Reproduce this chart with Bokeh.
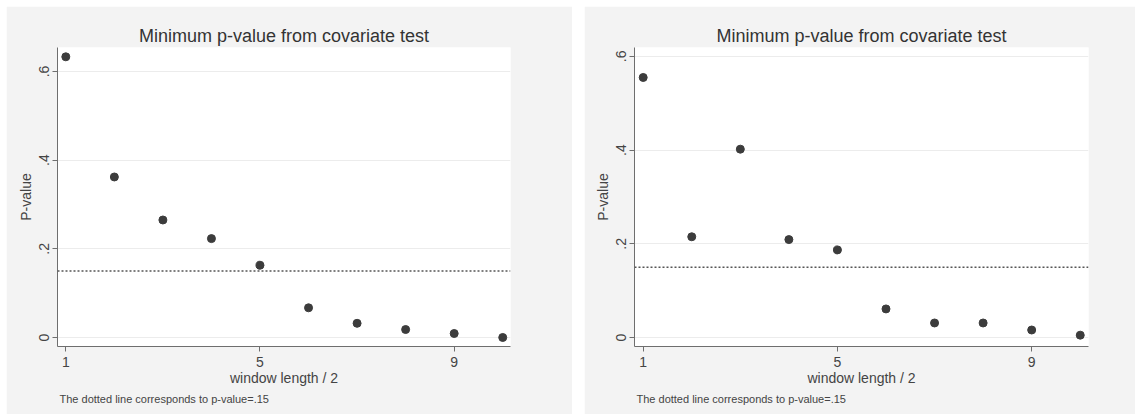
from bokeh.plotting import figure
from bokeh.layouts import row
from bokeh.models import FixedTicker, Range1d, Span, Title
from bokeh.embed import file_html
from bokeh.resources import INLINE

window = [1, 2, 3, 4, 5, 6, 7, 8, 9, 10]
pvals_left = [0.633, 0.362, 0.265, 0.223, 0.163, 0.067, 0.032, 0.018, 0.009, 0.0]
pvals_right = [0.555, 0.215, 0.402, 0.209, 0.187, 0.061, 0.031, 0.031, 0.016, 0.005]
threshold = 0.15
x_ticks = [1, 5, 9]
y_ticks = [0, 0.2, 0.4, 0.6]
y_tick_labels = {0: "0", 0.2: ".2", 0.4: ".4", 0.6: ".6"}
title_text = "Minimum p-value from covariate test"
x_title = "window length / 2"
y_title = "P-value"
note_text = "The dotted line corresponds to p-value=.15"

FONT = "Liberation Sans"
PANEL = "#f3f3f3"


def make_panel(vals, width, xr, yr, bl, br, margin):
    p = figure(width=width, height=408, output_backend="svg", toolbar_location=None,
               x_range=Range1d(*xr), y_range=Range1d(*yr),
               min_border_left=bl, min_border_right=br, min_border_top=41, min_border_bottom=68)
    p.margin = margin
    p.background_fill_color = "white"
    p.border_fill_color = PANEL
    p.outline_line_color = None

    p.title.text = title_text
    p.title.align = "center"
    p.title.text_font = FONT
    p.title.text_font_size = "18px"
    p.title.text_font_style = "normal"
    p.title.text_color = "#333333"
    p.title.standoff = 3

    p.scatter(window, vals, size=8, color="#3c3c3c")
    p.add_layout(Span(location=threshold, dimension="width", line_color="#555555",
                      line_width=1.6, line_dash="2 2"))

    for ax in (p.xaxis[0], p.yaxis[0]):
        ax.axis_line_color = "#6e6e6e"
        ax.major_tick_line_color = "#6e6e6e"
        ax.major_tick_out = 5
        ax.major_tick_in = 0
        ax.minor_tick_line_color = None
        ax.major_label_text_font = FONT
        ax.major_label_text_font_size = "14px"
        ax.major_label_text_color = "#444444"
        ax.axis_label_text_font = FONT
        ax.axis_label_text_font_size = "14px"
        ax.axis_label_text_font_style = "normal"
        ax.axis_label_text_color = "#444444"

    p.xaxis.ticker = FixedTicker(ticks=x_ticks)
    p.xaxis.axis_label = x_title
    p.xaxis.axis_label_standoff = 0
    p.xaxis.major_label_standoff = 5

    p.yaxis.ticker = FixedTicker(ticks=y_ticks)
    p.yaxis.major_label_overrides = y_tick_labels
    p.yaxis.major_label_orientation = "vertical"
    p.yaxis.axis_label = y_title
    p.yaxis.axis_label_standoff = 3
    p.yaxis.major_label_standoff = 3

    p.xgrid.grid_line_color = None
    p.ygrid.grid_line_color = "#ececec"

    note = Title(text=note_text, align="left", text_font=FONT, text_font_size="11px",
                 text_font_style="normal", text_color="#444444", standoff=5, offset=2)
    p.add_layout(note, "below")
    return p


p1 = make_panel(pvals_left, 566, (0.829, 10.16), (-0.0203, 0.654), 51, 62, (6, 0, 0, 6))
p2 = make_panel(pvals_right, 551, (0.821, 10.17), (-0.0192, 0.619), 50, 47, (6, 0, 0, 12))

layout = row(p1, p2)
open("out.html", "w").write(file_html(layout, INLINE))
